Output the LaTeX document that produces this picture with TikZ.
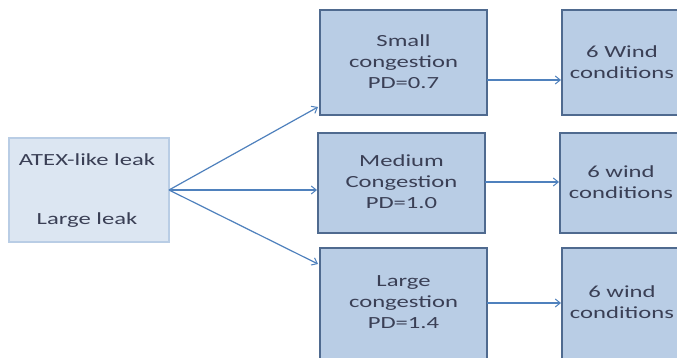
\documentclass[tikz,border=0pt]{standalone}
\usepackage{fontspec}
\setmainfont[FakeStretch=1.45]{Carlito}
\usetikzlibrary{arrows.meta}
\definecolor{midfill}{HTML}{B9CDE5}
\definecolor{midline}{HTML}{4F6A8F}
\definecolor{leftfill}{HTML}{DCE6F2}
\definecolor{leftline}{HTML}{B9CDE5}
\definecolor{arrowc}{HTML}{4F81BD}
\definecolor{txt}{HTML}{3A3F55}
\tikzset{
  x=1pt, y=-1pt,
  boxmid/.style={draw=midline, line width=1.4pt, fill=midfill, inner sep=0pt},
  boxleft/.style={draw=leftline, line width=1.2pt, fill=leftfill, inner sep=0pt},
  lbl/.style={text=txt, font=\fontsize{17}{21}\selectfont, align=center, inner sep=0pt},
  conn/.style={draw=arrowc, line width=1.2pt, -{Straight Barb[length=5pt,width=8pt,line width=1pt]}}
}
\begin{document}
\begin{tikzpicture}
\useasboundingbox (0,0) rectangle (677,358);
\clip (0,0) rectangle (677,358);
\fill[white] (0,0) rectangle (677,358);
% left box
\node[boxleft, minimum width=160pt, minimum height=104pt] (src) at (89,190) {};
\node[lbl] (srcA) at (87,160) {ATEX-like leak};
\node[lbl] (srcB) at (87,220) {Large leak};
% middle boxes
\node[boxmid, minimum width=167pt, minimum height=105pt] (small) at (403.5,62.5) {};
\node[lbl] (smallt) at (403.5,62) {Small\\congestion\\PD=0.7};
\node[boxmid, minimum width=167pt, minimum height=100pt] (medium) at (401.5,183) {};
\node[lbl] (mediumt) at (401.5,182) {Medium\\Congestion\\PD=1.0};
\node[boxmid, minimum width=167pt, minimum height=116pt] (large) at (403.5,306) {};
\node[lbl] (larget) at (403.5,302) {Large\\congestion\\PD=1.4};
% right boxes
\node[boxmid, minimum width=122pt, minimum height=105pt] (w1) at (623,62.5) {};
\node[lbl] (w1t) at (622,62) {6 Wind\\conditions};
\node[boxmid, minimum width=122pt, minimum height=100pt] (w2) at (621,183) {};
\node[lbl] (w2t) at (621,182) {6 wind\\conditions};
\node[boxmid, minimum width=122pt, minimum height=116pt] (w3) at (623,306) {};
\node[lbl] (w3t) at (622,302) {6 wind\\conditions};
% connector anchors
\coordinate (s0) at (169,190);
\coordinate (e1) at (318,107);
\coordinate (e2) at (317,190);
\coordinate (e3) at (318,264);
\draw[conn] (s0) -- (e1);
\draw[conn] (s0) -- (e2);
\draw[conn] (s0) -- (e3);
\coordinate (h1a) at (487,80);
\coordinate (h1b) at (561,80);
\coordinate (h2a) at (485,182);
\coordinate (h2b) at (559,182);
\coordinate (h3a) at (487,303);
\coordinate (h3b) at (561,303);
\draw[conn] (h1a) -- (h1b);
\draw[conn] (h2a) -- (h2b);
\draw[conn] (h3a) -- (h3b);
\end{tikzpicture}
\end{document}
